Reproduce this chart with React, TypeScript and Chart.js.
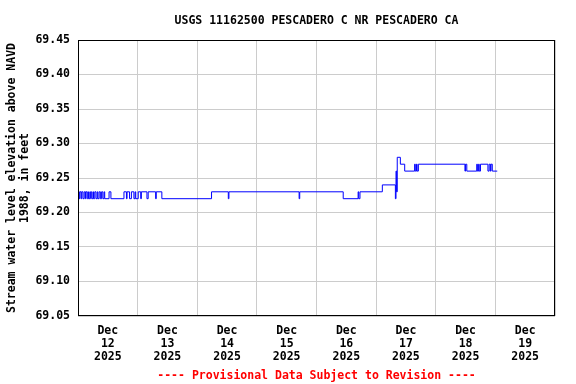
import React, { useEffect, useRef } from 'react';
import { Chart, registerables } from 'chart.js';

Chart.register(...registerables);

const TITLE = 'USGS 11162500 PESCADERO C NR PESCADERO CA';
const Y_TITLE = ['Stream water level elevation above NAVD', '1988, in feet'];
const FOOTNOTE = '---- Provisional Data Subject to Revision ----';
const MONTH = 'Dec';
const YEAR = '2025';
const DAY_LABELS = ['12', '13', '14', '15', '16', '17', '18', '19'];
const Y_MIN = 69.05;
const Y_MAX = 69.45;
const Y_STEP = 0.05;
const HOURS_PER_DAY = 24;

// Hours since Dec 12 00:00 at which the reading changes, and the level held from then on
const STEP_HOURS = [
  0, 0.5, 0.75, 1.25, 1.5, 2.0, 2.5, 3.0, 3.25, 3.75, 4.25, 4.5, 5.0, 5.5, 6.0, 6.25,
  6.75, 7.25, 7.75, 8.0, 8.5, 9.0, 9.5, 10.0, 10.5, 10.75, 12.5, 13.25, 18.5, 19.5,
  19.75, 20.75, 21.5, 22.5, 23.0, 23.25, 24.25, 25.25, 25.5, 27.75, 28.25, 31.25,
  31.5, 33.75, 53.75, 60.5, 60.75, 89.0, 89.25, 106.75, 112.75, 113.0, 113.5, 122.5,
  127.75, 128.0, 128.25, 128.5, 129.75, 131.5, 135.5, 135.75, 136.25, 136.5, 137.0,
  155.75, 156.0, 156.5, 160.5, 160.75, 161.25, 161.5, 162.0, 165.0, 165.5, 166.0,
  166.25, 166.75,
];
const STEP_LEVELS = [
  69.23, 69.22, 69.23, 69.22, 69.23, 69.22, 69.23, 69.22, 69.23, 69.22, 69.23, 69.22, 69.23, 69.22, 69.23, 69.22,
  69.23, 69.22, 69.23, 69.22, 69.23, 69.22, 69.23, 69.22, 69.23, 69.22, 69.23, 69.22, 69.23, 69.22,
  69.23, 69.22, 69.23, 69.22, 69.23, 69.22, 69.23, 69.22, 69.23, 69.22, 69.23, 69.22,
  69.23, 69.22, 69.23, 69.22, 69.23, 69.22, 69.23, 69.22, 69.23, 69.22, 69.23, 69.24,
  69.22, 69.26, 69.23, 69.28, 69.27, 69.26, 69.27, 69.26, 69.27, 69.26, 69.27,
  69.26, 69.27, 69.26, 69.27, 69.26, 69.27, 69.26, 69.27, 69.26, 69.27, 69.26,
  69.27, 69.26,
];
const END_HOUR = 168.75;

const FONT_FAMILY = '"DejaVu Sans Mono", monospace';
const FONT_SIZE = 11.5;

export default function App() {
  const canvasRef = useRef<HTMLCanvasElement | null>(null);

  useEffect(() => {
    document.body.style.margin = '0';
    const canvas = canvasRef.current;
    if (!canvas) return;

    const points = STEP_HOURS.map((h, i) => ({ x: h, y: STEP_LEVELS[i] }));
    points.push({ x: END_HOUR, y: STEP_LEVELS[STEP_LEVELS.length - 1] });

    const totalHours = DAY_LABELS.length * HOURS_PER_DAY;
    const font = { family: FONT_FAMILY, size: FONT_SIZE, weight: 'bold' as const, lineHeight: 1.2 };

    const framePlugin = {
      id: 'frame',
      afterDraw(chart: any) {
        const { ctx, chartArea: a } = chart;
        ctx.save();
        ctx.strokeStyle = '#000000';
        ctx.lineWidth = 1;
        ctx.strokeRect(Math.round(a.left) + 0.5, Math.round(a.top) + 0.5,
          Math.round(a.right - a.left) - 1, Math.round(a.bottom - a.top) - 1);
        ctx.restore();
      },
    };

    const chart = new Chart(canvas, {
      type: 'line',
      data: {
        datasets: [
          {
            data: points,
            borderColor: '#0000ff',
            borderWidth: 1,
            pointRadius: 0,
            stepped: true,
            fill: false,
          },
        ],
      },
      options: {
        animation: false,
        responsive: false,
        devicePixelRatio: 1,
        layout: { padding: { left: 0, right: 21, top: 0, bottom: 0 } },
        plugins: {
          legend: { display: false },
          tooltip: { enabled: false },
          title: {
            display: true,
            text: TITLE,
            color: '#000000',
            font,
            fullSize: false,
            padding: { top: 14, bottom: 12.2 },
          },
          subtitle: {
            display: true,
            text: FOOTNOTE,
            position: 'bottom',
            color: '#ff0000',
            font,
            fullSize: false,
            padding: { top: 1, bottom: 1 },
          },
        },
        scales: {
          x: {
            type: 'linear',
            min: 0,
            max: totalHours,
            afterBuildTicks(scale: any) {
              const ticks = [];
              for (let v = 0; v <= totalHours; v += HOURS_PER_DAY / 2) ticks.push({ value: v });
              scale.ticks = ticks;
            },
            afterFit(scale: any) {
              scale.height = 52.2;
            },
            grid: {
              color: (ctx: any) =>
                ctx.tick && ctx.tick.value % HOURS_PER_DAY === 0 ? '#cccccc' : 'rgba(0,0,0,0)',
              drawTicks: false,
              lineWidth: 1,
            },
            border: { display: false },
            ticks: {
              autoSkip: false,
              maxRotation: 0,
              minRotation: 0,
              color: '#000000',
              font: { ...font, lineHeight: 1.1 },
              padding: 9,
              callback: (value: any) => {
                const v = Number(value);
                if (v % HOURS_PER_DAY !== HOURS_PER_DAY / 2) return '';
                const idx = Math.floor(v / HOURS_PER_DAY);
                return [MONTH, DAY_LABELS[idx], YEAR];
              },
            },
          },
          y: {
            type: 'linear',
            min: Y_MIN,
            max: Y_MAX,
            afterFit(scale: any) {
              scale.width = 78;
            },
            grid: { color: '#cccccc', drawTicks: false, lineWidth: 1 },
            border: { display: false },
            ticks: {
              stepSize: Y_STEP,
              color: '#000000',
              font,
              padding: 8,
              callback: (value: any) => Number(value).toFixed(2),
            },
            title: {
              display: true,
              text: Y_TITLE,
              color: '#000000',
              font,
              padding: { top: 4.8, bottom: 0 },
            },
          },
        },
      },
      plugins: [framePlugin],
    });

    return () => chart.destroy();
  }, []);

  return (
    <div style={{ position: 'absolute', left: 0, top: 0, width: 576, height: 384 }}>
      <canvas ref={canvasRef} width={576} height={384} />
    </div>
  );
}
